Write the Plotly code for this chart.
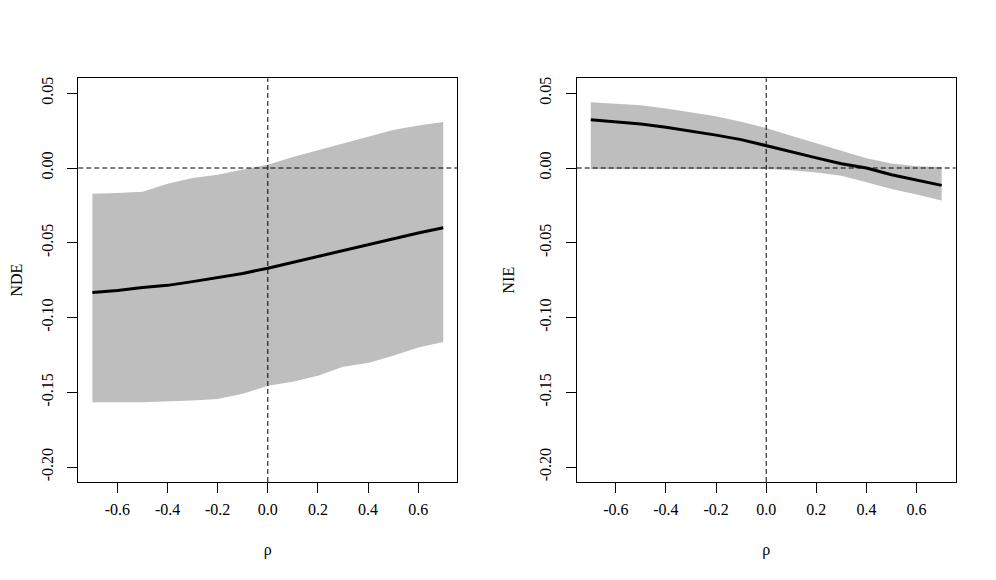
import plotly.graph_objects as go

rho = [-0.7, -0.6, -0.5, -0.4, -0.3, -0.2, -0.1, 0.0, 0.1, 0.2, 0.3, 0.4, 0.5, 0.6, 0.7]

nde_est = [-0.0833, -0.0820, -0.0800, -0.0785, -0.0760, -0.0735, -0.0705, -0.0670,
           -0.0630, -0.0590, -0.0550, -0.0510, -0.0470, -0.0435, -0.0400]
nde_upper = [-0.0172, -0.0168, -0.0158, -0.0105, -0.0067, -0.0045, -0.0010, 0.0022,
             0.0073, 0.0118, 0.0162, 0.0210, 0.0255, 0.0285, 0.0307]
nde_lower = [-0.1567, -0.1567, -0.1567, -0.1563, -0.1555, -0.1545, -0.1510, -0.1456,
             -0.1429, -0.1390, -0.1330, -0.1305, -0.1255, -0.1200, -0.1163]

nie_est = [0.0322, 0.0310, 0.0294, 0.0272, 0.0247, 0.0220, 0.0190, 0.0151,
           0.0110, 0.0068, 0.0028, 0.0000, -0.0045, -0.0082, -0.0116]
nie_upper = [0.0440, 0.0432, 0.0420, 0.0398, 0.0374, 0.0346, 0.0310, 0.0267,
             0.0215, 0.0165, 0.0115, 0.0065, 0.0030, 0.0012, 0.0007]
nie_lower = [-0.0007, -0.0007, -0.0007, -0.0007, -0.0007, -0.0007, -0.0007, -0.0007,
             -0.0015, -0.0030, -0.0052, -0.0095, -0.0140, -0.0178, -0.0218]

x_ticks = [-0.6, -0.4, -0.2, 0.0, 0.2, 0.4, 0.6]
x_ticktext = ["-0.6", "-0.4", "-0.2", "0.0", "0.2", "0.4", "0.6"]
y_ticks = [-0.20, -0.15, -0.10, -0.05, 0.00, 0.05]
y_ticktext = ["-0.20", "-0.15", "-0.10", "-0.05", "0.00", "0.05"]

FONT = "Liberation Serif"
BAND = "#BEBEBE"

fig = go.Figure()

panels = [
    ("x", "y", nde_est, nde_upper, nde_lower),
    ("x2", "y2", nie_est, nie_upper, nie_lower),
]
for xa, ya, est, up, lo in panels:
    fig.add_trace(go.Scatter(
        x=rho + rho[::-1], y=up + lo[::-1], fill="toself", fillcolor=BAND,
        line=dict(width=0, color=BAND), mode="lines", xaxis=xa, yaxis=ya,
        hoverinfo="skip", showlegend=False))
    fig.add_trace(go.Scatter(
        x=rho, y=est, mode="lines", line=dict(color="black", width=3),
        xaxis=xa, yaxis=ya, showlegend=False))

axis_common = dict(
    showgrid=False, zeroline=False, showline=True, mirror=True,
    linecolor="black", linewidth=1, ticks="outside", ticklen=10,
    tickcolor="black", tickwidth=1,
    tickfont=dict(family=FONT, size=16, color="black"),
)

x_range = [-0.756, 0.756]
y_range = [-0.21, 0.06]
y_dom = [0.1828, 0.8788]

fig.update_layout(
    width=996, height=580,
    margin=dict(l=0, r=0, t=0, b=0),
    paper_bgcolor="white", plot_bgcolor="white",
    font=dict(family=FONT, size=16, color="black"),
    xaxis=dict(domain=[0.0706, 0.4511], range=x_range, tickvals=x_ticks,
               ticktext=x_ticktext, anchor="y", ticklabelstandoff=3,
               title=dict(text="ρ", standoff=26, font=dict(family=FONT, size=16)),
               **axis_common),
    yaxis=dict(domain=y_dom, range=y_range, tickvals=y_ticks,
               ticktext=y_ticktext, tickangle=-90, anchor="x", ticklabelstandoff=8,
               title=dict(text="NDE", standoff=18, font=dict(family=FONT, size=16)),
               **axis_common),
    xaxis2=dict(domain=[0.5710, 0.9515], range=x_range, tickvals=x_ticks,
                ticktext=x_ticktext, anchor="y2", ticklabelstandoff=3,
                title=dict(text="ρ", standoff=26, font=dict(family=FONT, size=16)),
                **axis_common),
    yaxis2=dict(domain=y_dom, range=y_range, tickvals=y_ticks,
                ticktext=y_ticktext, tickangle=-90, anchor="x2", ticklabelstandoff=8,
                title=dict(text="NIE", standoff=18, font=dict(family=FONT, size=16)),
                **axis_common),
)

dash = "5px,3px"
for xa, ya in [("x", "y"), ("x2", "y2")]:
    fig.add_shape(type="line", xref=xa, yref=f"{ya} domain", x0=0, x1=0, y0=0, y1=1,
                  line=dict(color="black", width=1, dash=dash), layer="above")
    fig.add_shape(type="line", xref=f"{xa} domain", yref=ya, x0=0, x1=1, y0=0, y1=0,
                  line=dict(color="black", width=1, dash=dash), layer="above")

fig.write_html("out.html")
